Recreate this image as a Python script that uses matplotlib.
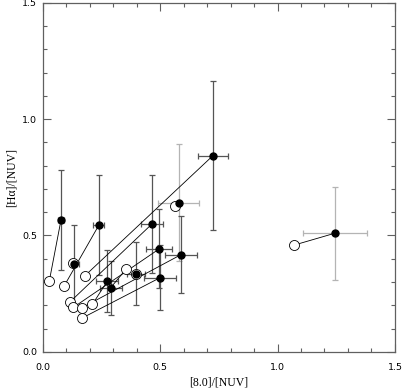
import numpy as np
import matplotlib
matplotlib.use('Agg')
import matplotlib.pyplot as plt
from matplotlib.ticker import MultipleLocator

# filled points ([8.0]/[NUV], [Ha]/[NUV]) with errors
x_fill = [0.078, 0.239, 0.134, 0.466, 0.496, 0.579, 0.724, 0.590, 0.397, 0.501, 0.275, 0.290, 1.246]
y_fill = [0.567, 0.544, 0.376, 0.550, 0.442, 0.641, 0.842, 0.418, 0.336, 0.319, 0.304, 0.276, 0.510]
x_err = [0.013, 0.023, 0.019, 0.046, 0.055, 0.087, 0.064, 0.069, 0.040, 0.068, 0.046, 0.048, 0.136]
y_err = [0.214, 0.215, 0.170, 0.210, 0.170, 0.250, 0.320, 0.165, 0.135, 0.140, 0.133, 0.116, 0.200]
light = [False, False, False, False, False, True, False, False, False, False, False, False, True]

# matching open circles (same order as the filled points)
x_open = [0.028, 0.092, 0.130, 0.116, 0.131, 0.562, 0.180, 0.167, 0.399, 0.166, 0.212, 0.354, 1.069]
y_open = [0.304, 0.284, 0.380, 0.214, 0.191, 0.628, 0.327, 0.189, 0.336, 0.144, 0.204, 0.354, 0.458]

fig = plt.figure(figsize=(4.03, 3.90), dpi=100)
ax = fig.add_axes([0.106, 0.098, 0.874, 0.895])

for i in range(len(x_fill)):
    ax.plot([x_open[i], x_fill[i]], [y_open[i], y_fill[i]], color='black', lw=0.6, zorder=2)

for i in range(len(x_fill)):
    c = '#b4b4b4' if light[i] else '#555555'
    ax.errorbar(x_fill[i], y_fill[i], xerr=x_err[i], yerr=y_err[i], fmt='none',
                ecolor=c, elinewidth=0.9, capsize=2.5, capthick=0.9, zorder=1)

ax.plot(x_open, y_open, 'o', ms=7.2, mfc='white', mec='black', mew=0.6, ls='none', zorder=3)
ax.plot(x_fill, y_fill, 'o', ms=5.0, color='black', ls='none', zorder=4)

ax.set_xlim(0, 1.5)
ax.set_ylim(0, 1.5)
ax.xaxis.set_major_locator(MultipleLocator(0.5))
ax.yaxis.set_major_locator(MultipleLocator(0.5))
ax.xaxis.set_minor_locator(MultipleLocator(0.1))
ax.yaxis.set_minor_locator(MultipleLocator(0.1))
ax.xaxis.set_major_formatter(plt.FuncFormatter(lambda v, _: f'{v:.1f}'))
ax.yaxis.set_major_formatter(plt.FuncFormatter(lambda v, _: f'{v:.1f}'))
ax.tick_params(which='both', direction='in', top=True, right=True, colors='#606060',
               labelcolor='black', labelsize=6.8, width=0.8)
ax.tick_params(which='major', length=6)
ax.tick_params(which='minor', length=3)
ax.tick_params(axis='x', which='major', pad=8)
ax.tick_params(axis='y', which='major', pad=4)
for s in ax.spines.values():
    s.set_color('#606060')
    s.set_linewidth(0.9)

ax.set_xlabel('[8.0]/[NUV]', family='Liberation Serif', fontsize=8.5, labelpad=3)
ax.set_ylabel('[Hα]/[NUV]', family='Liberation Serif', fontsize=8.5, labelpad=3)

fig.savefig('out.png', dpi=100)
